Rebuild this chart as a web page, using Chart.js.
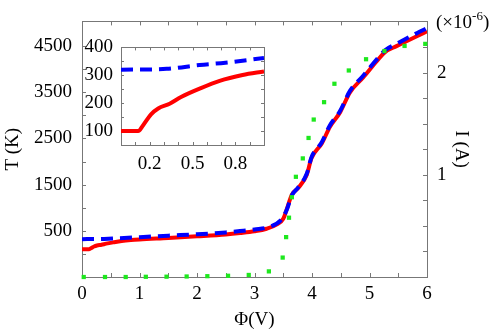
<!DOCTYPE html>
<html>
<head>
<meta charset="utf-8">
<script src="https://cdn.jsdelivr.net/npm/chart.js@4.4.1/dist/chart.umd.min.js"></script>
<style>
  html, body { margin: 0; padding: 0; background: #fff; }
  #wrap { position: relative; width: 498px; height: 332px; overflow: hidden; }
  #main { position: absolute; left: 0; top: 0; }
  #inset { position: absolute; left: 76px; top: 28px; }
  #scale-note {
    position: absolute; left: 436px; top: 12px;
    font: 19px "Liberation Serif", serif; line-height: 19px; white-space: nowrap; color: #000;
  }
  #scale-note span { font-size: 13px; position: relative; top: -8px; }
</style>
</head>
<body>
<div id="wrap">
  <canvas id="main" width="498" height="332"></canvas>
  <canvas id="inset" width="196" height="145"></canvas>
  <div id="scale-note">(&times;10<span>-6</span>)</div>
</div>
<script>
// temperature T(K) vs potential, red solid
const redPhi = [0, 0.12, 0.155, 0.21, 0.26, 0.34, 0.42, 0.55, 0.69, 0.85, 1.0, 1.5, 2.0, 2.5, 2.75, 3.0, 3.21, 3.39, 3.5, 3.56, 3.65, 3.76, 3.91, 3.99, 4.17, 4.31, 4.49, 4.66, 4.89, 5.13, 5.27, 5.47, 5.88, 6.0];
const redT = [100, 100, 121, 160, 181, 198, 222, 252, 280, 301, 314, 345, 380, 420, 451, 490, 545, 640, 760, 965, 1286, 1428, 1715, 2071, 2392, 2750, 3071, 3500, 3822, 4180, 4370, 4500, 4750, 4822];

// blue dashed
const bluePhi = [0, 0.32, 0.55, 0.73, 1.0, 1.5, 2.0, 2.5, 2.75, 3.0, 3.27, 3.45, 3.56, 3.65, 3.76, 3.91, 3.99, 4.17, 4.31, 4.49, 4.66, 4.89, 5.13, 5.27, 5.47, 5.83, 6.0];
const blueT = [320, 323, 337, 345, 362, 395, 425, 465, 495, 530, 590, 720, 950, 1270, 1440, 1740, 2090, 2420, 2780, 3100, 3530, 3860, 4220, 4410, 4550, 4786, 4890];

// current I (x1e-6 A), green dots, right axis
const greenPhi = [0.03, 0.4, 0.76, 1.11, 1.47, 1.82, 2.18, 2.54, 2.9, 3.25, 3.49, 3.55, 3.6, 3.65, 3.72, 3.84, 3.94, 4.03, 4.21, 4.39, 4.64, 4.94, 5.26, 5.61, 5.97];
const greenI = [0, 0, 0, 0.002, 0.003, 0.005, 0.008, 0.012, 0.02, 0.055, 0.19, 0.39, 0.58, 0.78, 0.98, 1.16, 1.36, 1.54, 1.71, 1.89, 2.02, 2.13, 2.21, 2.26, 2.28];

// inset (zoom on 0..1 V)
const insetRedPhi = [0, 0.12, 0.155, 0.21, 0.26, 0.34, 0.42, 0.55, 0.69, 0.85, 1.0];
const insetRedT = [100, 100, 121, 160, 181, 198, 222, 252, 280, 301, 314];
const insetBluePhi = [0, 0.32, 0.55, 0.73, 1.0];
const insetBlueT = [320, 323, 337, 345, 362];

// tick labels
const xTickLabels = [0, 1, 2, 3, 4, 5, 6];
const tTickLabels = [500, 1500, 2500, 3500, 4500];
const iTickLabels = [1, 2];
const insetXTickLabels = [0.2, 0.5, 0.8];
const insetYTickLabels = [100, 200, 300, 400];

const pts = (xs, ys) => xs.map((x, i) => ({ x: x, y: ys[i] }));
const hasLabel = (list, v) => list.some(l => Math.abs(l - v) < 1e-6);
const onStep = (v, step) => Math.abs(v / step - Math.round(v / step)) < 1e-6;

const FONT = { family: '"Liberation Serif", serif', size: 19 };
const RED = 'rgb(255,0,0)';
const BLUE = 'rgb(0,0,255)';
const GREEN = 'rgb(30,232,30)';

// frame + inward tick marks (Mathematica style)
const frameTicks = {
  id: 'frameTicks',
  beforeDraw(chart) {
    const { ctx, chartArea: a } = chart;
    ctx.save();
    ctx.fillStyle = '#fff';
    ctx.fillRect(a.left, a.top, a.right - a.left, a.bottom - a.top);
    ctx.restore();
  },
  beforeDatasetsDraw(chart, args, opts) {
    const { ctx, chartArea: a, scales } = chart;
    ctx.save();
    ctx.strokeStyle = '#777';
    ctx.lineWidth = 1;
    ctx.strokeRect(Math.round(a.left) + 0.5, Math.round(a.top) + 0.5, Math.round(a.right - a.left), Math.round(a.bottom - a.top));
    ctx.beginPath();
    Object.keys(opts.sides).forEach(id => {
      const s = scales[id];
      const { edges, step } = opts.sides[id];
      edges.forEach(side => {
        s.ticks.forEach(t => {
          if (!onStep(t.value, step)) return;
          const p = Math.round(s.getPixelForValue(t.value)) + 0.5;
          if (side === 'bottom') { ctx.moveTo(p, a.bottom); ctx.lineTo(p, a.bottom - opts.len); }
          if (side === 'top') { ctx.moveTo(p, a.top); ctx.lineTo(p, a.top + opts.len); }
          if (side === 'left') { ctx.moveTo(a.left, p); ctx.lineTo(a.left + opts.len, p); }
          if (side === 'right') { ctx.moveTo(a.right, p); ctx.lineTo(a.right - opts.len, p); }
        });
      });
    });
    ctx.stroke();
    ctx.restore();
  }
};

const noGrid = { display: false, drawTicks: false };
const noBorder = { display: false };

new Chart(document.getElementById('main'), {
  type: 'line',
  data: {
    datasets: [
      { data: pts(greenPhi, greenI), yAxisID: 'y2', showLine: false, pointStyle: 'rect',
        pointRadius: 3, pointBackgroundColor: GREEN, pointBorderWidth: 0, clip: false, order: 0 },
      { data: pts(bluePhi, blueT), yAxisID: 'y', borderColor: BLUE, borderWidth: 4,
        borderDash: [12, 7], pointRadius: 0, cubicInterpolationMode: 'monotone', order: 1 },
      { data: pts(redPhi, redT), yAxisID: 'y', borderColor: RED, borderWidth: 4,
        pointRadius: 0, cubicInterpolationMode: 'monotone', order: 2 }
    ]
  },
  options: {
    responsive: false,
    animation: false,
    layout: { padding: { top: 18, left: 0, right: 0, bottom: 0 } },
    plugins: {
      legend: { display: false },
      tooltip: { enabled: false },
      frameTicks: { len: 4, sides: {
        x: { edges: ['bottom', 'top'], step: 0.5 },
        y: { edges: ['left'], step: 500 },
        y2: { edges: ['right'], step: 0.25 }
      } }
    },
    scales: {
      x: {
        type: 'linear', min: 0, max: 6,
        grid: noGrid, border: noBorder,
        ticks: { stepSize: 0.5, maxTicksLimit: 100, autoSkip: false, maxRotation: 0, padding: 6, color: '#000', font: FONT,
          callback: v => hasLabel(xTickLabels, v) ? String(Math.round(v)) : '' },
        title: { display: true, text: 'Φ(V)', color: '#000', font: FONT, padding: { top: 0, bottom: 1 } },
        afterFit: s => { s.height = 55; }
      },
      y: {
        type: 'linear', position: 'left', min: -500, max: 5036,
        grid: noGrid, border: noBorder,
        ticks: { stepSize: 100, maxTicksLimit: 100, autoSkip: false, padding: 10, color: '#000', font: FONT,
          callback: v => hasLabel(tTickLabels, v) ? String(v) : '' },
        title: { display: true, text: 'T (K)', color: '#000', font: FONT, padding: { top: 2, bottom: 0 } },
        afterFit: s => { s.width = 82; }
      },
      y2: {
        type: 'linear', position: 'right', min: 0, max: 2.5,
        grid: noGrid, border: noBorder,
        ticks: { stepSize: 0.25, maxTicksLimit: 100, autoSkip: false, padding: 10, color: '#000', font: FONT,
          callback: v => hasLabel(iTickLabels, v) ? String(v) : '' },
        title: { display: true, text: 'I (A)', color: '#000', font: FONT, padding: { top: 26, bottom: 0 } },
        afterFit: s => { s.width = 71; }
      }
    }
  },
  plugins: [frameTicks]
});

new Chart(document.getElementById('inset'), {
  type: 'line',
  data: {
    datasets: [
      { data: pts(insetBluePhi, insetBlueT), borderColor: BLUE, borderWidth: 4,
        borderDash: [12, 7], pointRadius: 0, cubicInterpolationMode: 'monotone', order: 0 },
      { data: pts(insetRedPhi, insetRedT), borderColor: RED, borderWidth: 4,
        pointRadius: 0, cubicInterpolationMode: 'monotone', order: 1 }
    ]
  },
  options: {
    responsive: false,
    animation: false,
    layout: { padding: { top: 10, left: 0, right: 6, bottom: 0 } },
    plugins: {
      legend: { display: false },
      tooltip: { enabled: false },
      frameTicks: { len: 3, sides: {
        x: { edges: ['bottom', 'top'], step: 0.1 },
        y: { edges: ['left', 'right'], step: 50 }
      } }
    },
    scales: {
      x: {
        type: 'linear', min: 0, max: 1,
        grid: noGrid, border: noBorder,
        ticks: { stepSize: 0.1, maxTicksLimit: 100, autoSkip: false, maxRotation: 0, padding: 8, color: '#000', font: FONT,
          callback: v => hasLabel(insetXTickLabels, v) ? v.toFixed(1) : '' },
        afterFit: s => { s.height = 28; }
      },
      y: {
        type: 'linear', min: 50, max: 400,
        grid: noGrid, border: noBorder,
        ticks: { stepSize: 50, maxTicksLimit: 100, autoSkip: false, padding: 8, color: '#000', font: FONT,
          callback: v => hasLabel(insetYTickLabels, v) ? String(v) : '' },
        afterFit: s => { s.width = 45; }
      }
    }
  },
  plugins: [frameTicks]
});
</script>
</body>
</html>
